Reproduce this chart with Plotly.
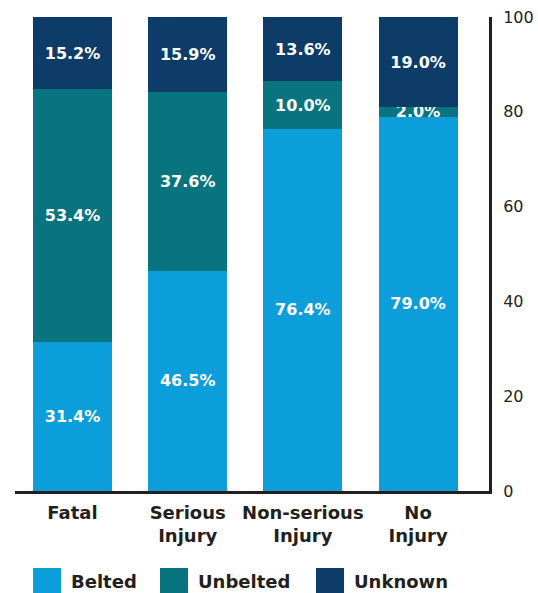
import plotly.graph_objects as go

categories = ["Fatal", "Serious<br>Injury", "Non-serious<br>Injury", "No<br>Injury"]
series_names = ["Belted", "Unbelted", "Unknown"]
belted = [31.4, 46.5, 76.4, 79.0]
unbelted = [53.4, 37.6, 10.0, 2.0]
unknown = [15.2, 15.9, 13.6, 19.0]
colors = ["#0c9edb", "#077480", "#0d3c69"]
y_ticks = [0, 20, 40, 60, 80, 100]

series = [belted, unbelted, unknown]
xpos = list(range(len(categories)))

W, H = 538, 593
L, R, T, B = 15, 489, 17, 491

fig = go.Figure()
for name, vals, col in zip(series_names, series, colors):
    fig.add_trace(go.Bar(
        x=xpos, y=vals, name=name, width=0.686,
        marker=dict(color=col, line=dict(width=0)),
        text=[f"{v:.1f}%" for v in vals],
        textposition="inside", insidetextanchor="middle", textangle=0,
        textfont=dict(family="DejaVu Sans", size=16, color="white", weight="bold"),
        showlegend=False, cliponaxis=False,
    ))

def px_x(x):
    return (x - L) / (R - L)

def px_y(y):
    return (B - y) / (B - T)

# custom legend built from series names/colors
sw_x = [33, 160, 316]
sw_w = 28
shapes = []
annotations = []
for i, (name, col) in enumerate(zip(series_names, colors)):
    x0 = sw_x[i]
    shapes.append(dict(type="rect", xref="paper", yref="paper",
                       x0=px_x(x0), x1=px_x(x0 + sw_w), y0=px_y(593), y1=px_y(568),
                       fillcolor=col, line=dict(width=0)))
    annotations.append(dict(xref="paper", yref="paper", x=px_x(x0 + sw_w + 8), y=px_y(581),
                            xanchor="left", yanchor="middle", text=name, showarrow=False,
                            font=dict(family="DejaVu Sans", size=18, color="#231f20", weight="bold")))

fig.update_layout(
    width=W, height=H,
    margin=dict(l=L, r=W - R, t=T, b=H - B, pad=0, autoexpand=False),
    barmode="stack",
    plot_bgcolor="white", paper_bgcolor="white",
    uniformtext=dict(minsize=16, mode="show"),
    shapes=shapes, annotations=annotations,
    showlegend=False,
)
fig.update_xaxes(
    range=[-0.4993, 3.616], tickvals=xpos, ticktext=categories,
    showgrid=False, zeroline=False, showline=True, linewidth=3, linecolor="#231f20",
    ticks="", ticklabelstandoff=3,
    tickfont=dict(family="DejaVu Sans", size=18, color="#231f20", weight="bold"),
    fixedrange=True, automargin=False,
)
fig.update_yaxes(
    range=[0, 100], tickvals=y_ticks, side="right",
    showgrid=False, zeroline=False, showline=True, linewidth=3, linecolor="#231f20",
    ticks="", ticklabelstandoff=8,
    tickfont=dict(family="DejaVu Sans", size=16, color="#231f20"),
    fixedrange=True, automargin=False,
)

fig.write_html(
    "out.html",
    config={"displayModeBar": False},
    post_script="document.body.style.margin='0';document.body.style.overflow='hidden';",
)
